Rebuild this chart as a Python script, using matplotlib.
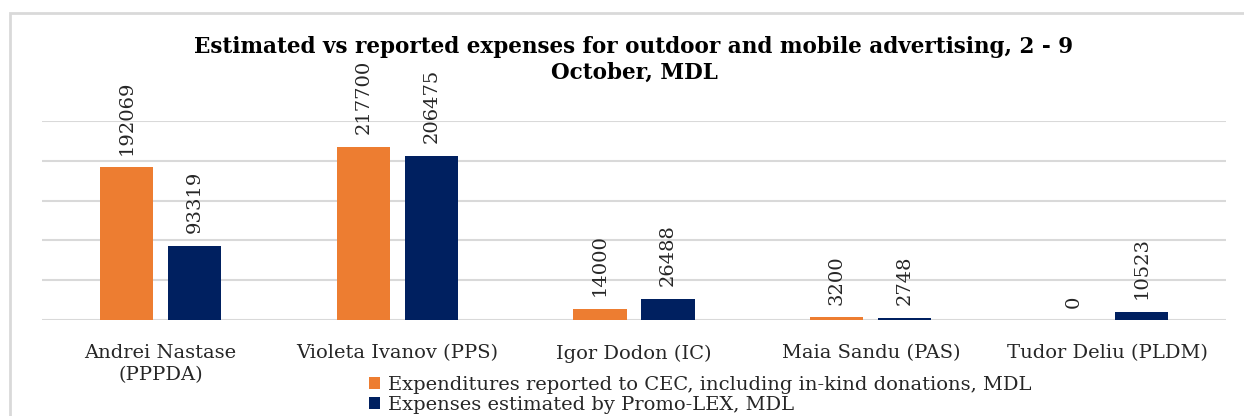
import matplotlib
matplotlib.use("Agg")
import matplotlib.pyplot as plt
import numpy as np
from matplotlib.patches import Rectangle

categories = ["Andrei Nastase\n(PPPDA)", "Violeta Ivanov (PPS)", "Igor Dodon (IC)",
              "Maia Sandu (PAS)", "Tudor Deliu (PLDM)"]
reported = [192069, 217700, 14000, 3200, 0]
estimated = [93319, 206475, 26488, 2748, 10523]
series_names = ["Expenditures reported to CEC, including in-kind donations, MDL",
                "Expenses estimated by Promo-LEX, MDL"]
title_lines = ["Estimated vs reported expenses for outdoor and mobile advertising, 2 - 9",
               "October, MDL"]

plt.rcParams['font.family'] = ['DejaVu Serif']

fig = plt.figure(figsize=(12.44, 4.16), dpi=100)
ax = fig.add_axes([42/1244, 1-320/416, (1226-42)/1244, (320-121)/416])

x = np.arange(len(categories))
w = 0.224
off = 0.1436
b1 = ax.bar(x - off, reported, w, color="#ED7D31", label=series_names[0], zorder=3)
b2 = ax.bar(x + off, estimated, w, color="#002060", label=series_names[1], zorder=3)

for bars, vals in ((b1, reported), (b2, estimated)):
    for r, v in zip(bars, vals):
        ax.annotate(f"{v}", (r.get_x() + r.get_width()/2, v), xytext=(0, 9),
                    textcoords="offset points", rotation=90, ha="center", va="bottom",
                    fontsize=14, color="#262626")

ax.set_xlim(-0.5, len(categories) - 0.5)
ax.set_ylim(0, 250000)
ax.set_yticks(np.arange(0, 250001, 50000))
ax.yaxis.grid(True, color="#d9d9d9", linewidth=1.5, zorder=0)
ax.tick_params(axis="y", left=False, labelleft=False)
ax.tick_params(axis="x", bottom=False, pad=14)
ax.set_xticks(x)
ax.set_xticklabels(categories, fontsize=14, color="#262626", linespacing=1.3)
for s in ax.spines.values():
    s.set_visible(False)

fig.text(634/1244, 1-47/416, title_lines[0], ha="center", va="center", fontsize=15.5,
         fontweight="bold")
fig.text(634/1244, 1-73/416, title_lines[1], ha="center", va="center", fontsize=15.5,
         fontweight="bold")

fig.legend(handles=[b1, b2], labels=series_names, loc="upper left",
           bbox_to_anchor=(359/1244, 1-366/416), frameon=False, fontsize=14,
           handlelength=0.6, handleheight=0.6, handletextpad=0.4,
           labelspacing=0.1, borderpad=0, labelcolor="#262626")

fig.patches.append(Rectangle((10/1244, -0.1), 1.2, 1-13/416+0.1, transform=fig.transFigure,
                             fill=False, edgecolor="#d9d9d9", linewidth=2))

fig.savefig("out.png", dpi=100)
